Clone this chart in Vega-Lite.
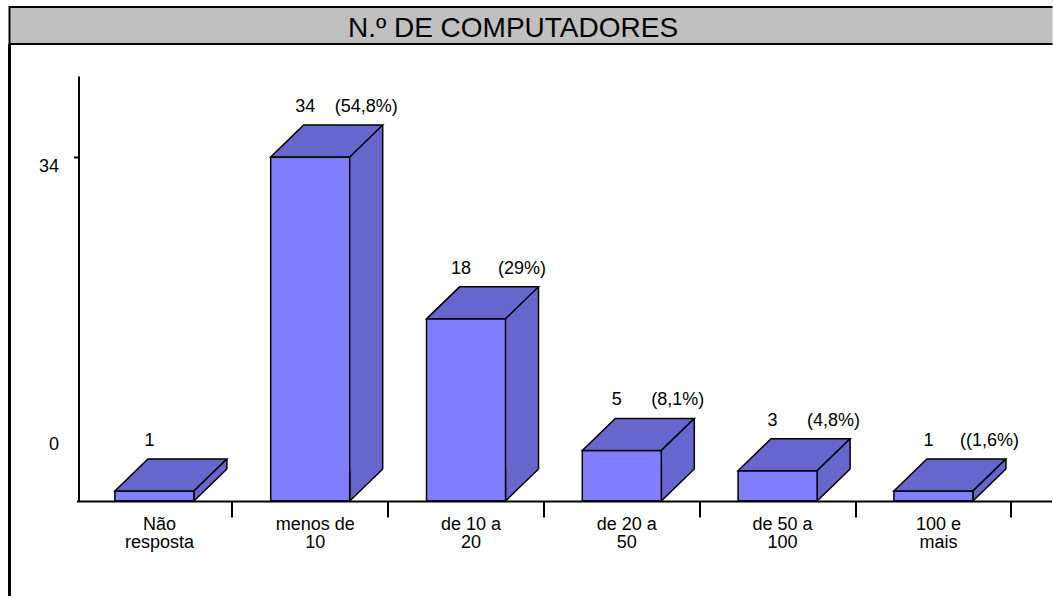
{
  "$schema": "https://vega.github.io/schema/vega-lite/v6.json",
  "padding": {"left": 7.5, "top": 6, "right": 0, "bottom": 0},
  "background": "white",
  "spacing": 0,
  "bounds": "flush",
  "config": {"font": "Liberation Sans"},
  "vconcat": [
    {
      "width": 1043,
      "height": 37,
      "view": {"fill": "#c0c0c0", "stroke": "black", "strokeWidth": 2, "strokeDash": [1043, 37, 1080]},
      "data": {"values": [{}]},
      "mark": {"type": "text", "text": "N.º DE COMPUTADORES", "font": "Liberation Sans", "fontSize": 28, "fill": "black", "baseline": "alphabetic", "dx": -18, "dy": 11.5}
    },
    {
      "width": 1042,
      "height": 552,
      "view": {"stroke": "black", "strokeWidth": 3, "strokeDash": [0, 2636, 600]},
      "data": {
        "values": [
          {"cat": "Não resposta", "n": 1, "pct": ""},
          {"cat": "menos de 10", "n": 34, "pct": "(54,8%)"},
          {"cat": "de 10 a 20", "n": 18, "pct": "(29%)"},
          {"cat": "de 20 a 50", "n": 5, "pct": "(8,1%)"},
          {"cat": "de 50 a 100", "n": 3, "pct": "(4,8%)"},
          {"cat": "100 e mais", "n": 1, "pct": "((1,6%)"}
        ]
      },
      "encoding": {
        "x": {
          "field": "cat", "type": "nominal", "sort": null,
          "scale": {"range": [67, 1042], "paddingInner": 0, "paddingOuter": 0.129, "align": 0},
          "axis": {
            "title": null, "orient": "bottom", "offset": -95, "zindex": 1,
            "bandPosition": 1, "tickSize": 16, "tickWidth": 2, "tickColor": "black",
            "domainColor": "black", "domainWidth": 2,
            "labelFont": "Liberation Sans", "labelFontSize": 18, "labelColor": "black",
            "labelAngle": 0, "labelOffset": 5, "labelPadding": -2, "labelLineHeight": 18,
            "labelBaseline": "top", "labelOverlap": false, "labelBound": false, "labelFlush": false,
            "labelExpr": "[slice(datum.label, 0, lastindexof(datum.label, ' ')), slice(datum.label, lastindexof(datum.label, ' ') + 1)]"
          }
        },
        "y": {
          "field": "n", "type": "quantitative",
          "scale": {"domain": [0, 42], "range": [457, 32], "nice": false, "zero": true},
          "axis": {
            "title": null, "orient": "left", "offset": -69, "zindex": 1, "values": [0, 34], "grid": false,
            "tickSize": 5, "tickWidth": 2, "tickColor": "black",
            "tickOpacity": {"condition": {"test": "datum.value == 0", "value": 0}, "value": 1},
            "domainColor": "black", "domainWidth": 2,
            "labelFont": "Liberation Sans", "labelFontSize": 18, "labelColor": "black", "labelPadding": 15,
            "labelOffset": {"condition": {"test": "datum.value == 0", "value": -56.5}, "value": 9.5},
            "labelFlush": false, "labelOverlap": false, "labelBound": false
          }
        }
      },
      "layer": [
        {"mark": {"type": "bar", "width": 33, "xOffset": 56, "yOffset": -32, "fill": "#6666cc"}},
        {
          "mark": {"type": "point", "shape": "M72.5,-32L39.5,0L39.5,-32", "size": 4, "filled": true, "fill": "#6666cc", "stroke": "black", "strokeWidth": 1.5, "opacity": 1},
          "encoding": {"y": {"datum": 0, "type": "quantitative"}}
        },
        {"mark": {"type": "bar", "width": 79, "fill": "#8080ff", "stroke": "black", "strokeWidth": 1.5}},
        {
          "mark": {"type": "rule", "xOffset": 72.5, "yOffset": -32, "y2Offset": -32, "stroke": "black", "strokeWidth": 1.5},
          "encoding": {"y2": {"datum": 0}}
        },
        {"mark": {"type": "point", "shape": "M-39.5,0L39.5,0L72.5,-32L-6.5,-32Z", "size": 4, "filled": true, "fill": "#6666cc", "stroke": "black", "strokeWidth": 1.5, "opacity": 1}},
        {
          "mark": {"type": "text", "dx": -5, "dy": -45, "baseline": "alphabetic", "font": "Liberation Sans", "fontSize": 18, "fill": "black"},
          "encoding": {"text": {"field": "n", "type": "nominal"}}
        },
        {
          "mark": {"type": "text", "dx": 56, "dy": -45, "baseline": "alphabetic", "font": "Liberation Sans", "fontSize": 18, "fill": "black"},
          "encoding": {"text": {"field": "pct", "type": "nominal"}}
        }
      ]
    }
  ]
}
